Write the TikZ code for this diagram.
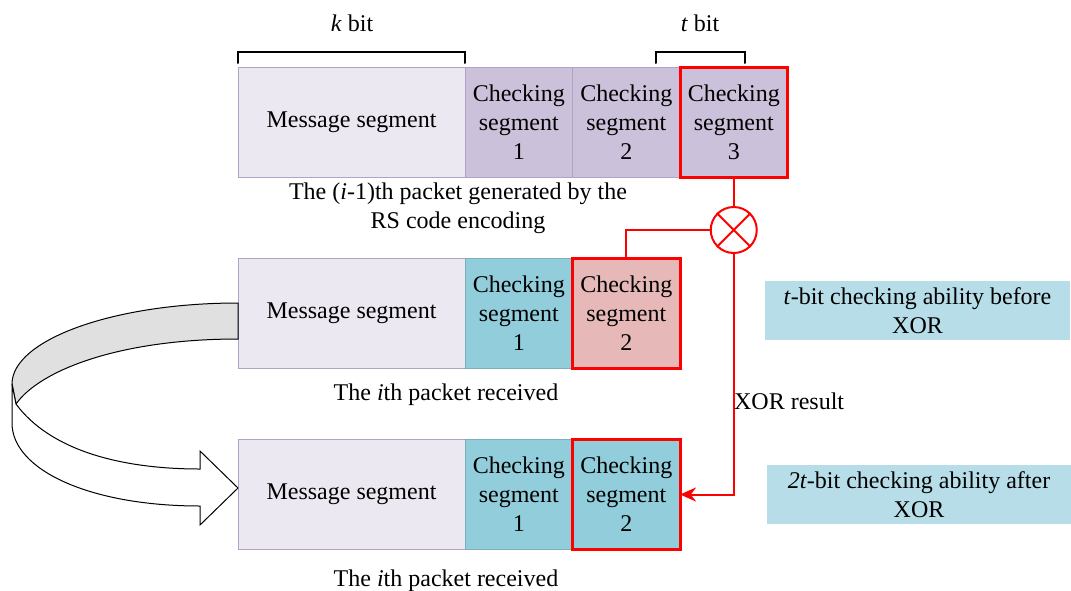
\documentclass[tikz,border=0pt]{standalone}
\usepackage{fontspec}
\setmainfont{Liberation Serif}
\usetikzlibrary{arrows.meta}
\usetikzlibrary{positioning}
\definecolor{msgfill}{HTML}{ECE8F1}
\definecolor{msgline}{HTML}{B3A2C7}
\definecolor{chkfill}{HTML}{CCC1DA}
\definecolor{aqua}{HTML}{92CDDC}
\definecolor{rose}{HTML}{E6B9B8}
\definecolor{notefill}{HTML}{B7DEE8}

\begin{document}
\begin{tikzpicture}[x=0.5pt,y=-0.5pt,
    font=\fontsize{12}{14.5}\selectfont,
    seg/.style={draw=msgline,line width=0.5pt,outer sep=0pt,inner sep=0pt,
      minimum height=55pt,align=center},
    msg/.style={seg,fill=msgfill,minimum width=113.5pt},
    chk/.style={seg,fill=chkfill,minimum width=53.75pt},
    teal/.style={seg,fill=aqua,draw=aqua!85!black,minimum width=53.75pt},
    hot/.style={draw=red,line width=1.5pt},
    note/.style={fill=notefill,inner sep=0pt,minimum width=152.5pt,
      minimum height=29.5pt,align=center},
    brk/.style={line width=1pt,line cap=round},
    xline/.style={draw=red,line width=1pt}]
  \useasboundingbox (0,0) rectangle (1071,590);

  \node[msg] (ma) at (351.5,122) {Message segment};
  \node[chk,right=0pt of ma] (ca1) {Checking\\segment\\1};
  \node[chk,right=0pt of ca1] (ca2) {Checking\\segment\\2};
  \node[chk,hot,right=0pt of ca2] (ca3) {Checking\\segment\\3};

  \node[msg] (mb) at (351.5,313) {Message segment};
  \node[teal,right=0pt of mb] (cb1) {Checking\\segment\\1};
  \node[teal,hot,fill=rose,right=0pt of cb1] (cb2) {Checking\\segment\\2};

  \node[msg] (mc) at (351.5,494.5) {Message segment};
  \node[teal,right=0pt of mc] (cc1) {Checking\\segment\\1};
  \node[teal,hot,right=0pt of cc1] (cc2) {Checking\\segment\\2};

  \draw[brk] ([yshift=2pt]ma.north west) -- ([yshift=7.5pt]ma.north west)
    -- ([yshift=7.5pt]ma.north east) -- ([yshift=2pt]ma.north east);
  \draw[brk] ([xshift=-12pt,yshift=2pt]ca3.north west) -- ([xshift=-12pt,yshift=7.5pt]ca3.north west)
    -- ([xshift=-21.5pt,yshift=7.5pt]ca3.north east) -- ([xshift=-21.5pt,yshift=2pt]ca3.north east);
  \node (kb) at (352,23) {\textit{k} bit};
  \node (tb) at (700,23) {\textit{t} bit};

  \node[align=center] (capa) at (458,208) {The (\textit{i}-1)th packet generated by the\\RS code encoding};
  \node (capb) at (446,395) {The \textit{i}th packet received};
  \node (capc) at (446,581) {The \textit{i}th packet received};

  \node[circle,xline,minimum size=23pt,inner sep=0pt] (xor) at (733.75,230) {};
  \draw[xline] (xor.north west) -- (xor.south east) (xor.north east) -- (xor.south west);
  \draw[xline] (ca3) -- (xor);
  \draw[xline] (xor) -| (cb2);
  \draw[xline,-{Stealth[length=8pt,width=7pt]}] (xor) |- (cc2);
  \node[anchor=west,inner sep=0pt] (res) at (733.75,401) {XOR result};

  \node[note] (na) at (917.5,310.5) {\textit{t}-bit checking ability before\\XOR};
  \node[note] (nb) at (919,494.5) {\textit{2t}-bit checking ability after\\XOR};

  \filldraw[fill=black!12,line width=0.5pt] (238,303) .. controls (113,303) and (12,340) .. (12,384)
    -- (16,404) .. controls (40,370) and (120,339) .. (238,339) -- cycle;
  \filldraw[fill=white,line width=0.5pt] (16,404) .. controls (50,450) and (120,469) .. (200,469)
    -- (200,451) -- (238,488) -- (200,525) -- (200,506)
    .. controls (90,506) and (12,470) .. (12,423) -- (12,384) -- cycle;
\end{tikzpicture}
\end{document}
